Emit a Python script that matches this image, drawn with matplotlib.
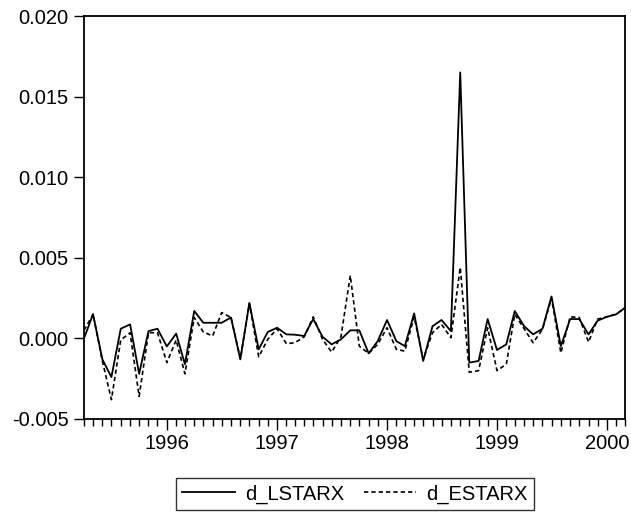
import numpy as np
import pandas as pd
import matplotlib
matplotlib.use('Agg')
import matplotlib.pyplot as plt
import matplotlib.dates as mdates
from matplotlib.ticker import FormatStrFormatter, MultipleLocator

plt.rcParams['font.family'] = ['Liberation Sans', 'DejaVu Sans']
plt.rcParams['axes.unicode_minus'] = False

# monthly observations, 1995M04 - 2000M03
months = pd.date_range('1995-04-01', '2000-03-01', freq='MS')

d_lstarx = [
    0.0000, 0.0015, -0.0013, -0.0024, 0.0006, 0.00087, -0.0022, 0.00045, 0.0006, -0.0005,
    0.0003, -0.0016, 0.0017, 0.00097, 0.00097, 0.00097, 0.0013, -0.0013, 0.0022, -0.00068,
    0.0004, 0.00066, 0.00025, 0.00023, 0.00015, 0.0012, 0.0001, -0.00037, -0.00006, 0.0005,
    0.0005, -0.00093, -0.00017, 0.00114, -0.00017, -0.00048, 0.00155, -0.0014, 0.00076, 0.00114,
    0.00045, 0.0165, -0.0015, -0.0014, 0.0012, -0.00072, -0.00037, 0.0017, 0.00076, 0.00025,
    0.0006, 0.0026, -0.00048, 0.0012, 0.0012, 0.00025, 0.0011, 0.00134, 0.0015, 0.0019,
]
d_estarx = [
    0.0005, 0.0015, -0.0014, -0.0038, -0.0001, 0.00035, -0.0036, 0.00035, 0.00035, -0.0015,
    -0.0001, -0.0022, 0.0013, 0.0004, 0.00015, 0.0016, 0.0013, -0.00126, 0.00217, -0.00114,
    -0.00006, 0.0006, -0.00033, -0.00027, 0.0001, 0.00134, -0.00006, -0.00085, 0.0001, 0.0039,
    -0.00048, -0.00093, -0.00037, 0.00066, -0.00068, -0.00079, 0.00134, -0.0013, 0.00035, 0.00087,
    0.00004, 0.0044, -0.0021, -0.002, 0.00066, -0.002, -0.0016, 0.0015, 0.0006, -0.00027,
    0.00056, 0.0025, -0.0009, 0.00134, 0.0013, -0.00023, 0.0012, 0.00134, 0.0015, 0.0019,
]

fig = plt.figure(figsize=(6.31, 5.14), dpi=100)
ax = fig.add_axes([84 / 631, 95 / 514, 541 / 631, 403 / 514])

ax.plot(months, d_lstarx, color='black', lw=1.3, label='d_LSTARX')
ax.plot(months, d_estarx, color='black', lw=1.2, ls=(0, (2.6, 1.8)), label='d_ESTARX')

ax.set_xlim(months[0], months[-1])
ax.set_ylim(-0.005, 0.020)
ax.yaxis.set_major_locator(MultipleLocator(0.005))
ax.yaxis.set_major_formatter(FormatStrFormatter('%.3f'))

ax.xaxis.set_major_locator(mdates.YearLocator())
ax.xaxis.set_minor_locator(mdates.MonthLocator())
ax.xaxis.set_major_formatter(mdates.DateFormatter('%Y'))

ax.tick_params(axis='y', which='major', direction='out', length=7, width=1, labelsize=14.5, pad=4)
ax.tick_params(axis='x', which='major', direction='out', length=8, width=1, labelsize=14.5, pad=2.5)
ax.tick_params(axis='x', which='minor', direction='out', length=5, width=1)
for sp in ax.spines.values():
    sp.set_linewidth(1.3)

leg = fig.legend(loc='center', bbox_to_anchor=(355 / 631, 1 - 494 / 514), ncol=2,
                 fontsize=14.5, frameon=True, fancybox=False, edgecolor='black',
                 handlelength=2.6, columnspacing=1.0, handletextpad=0.5, borderpad=0.3,
                 borderaxespad=0)
leg.get_frame().set_linewidth(1.0)

fig.savefig('out.png', dpi=100)
